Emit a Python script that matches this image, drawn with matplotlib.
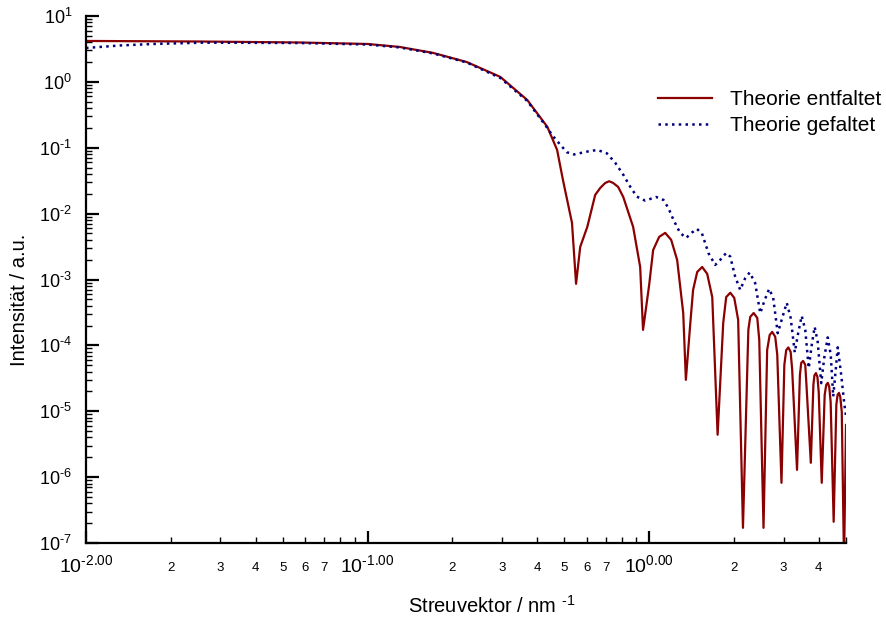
import matplotlib
matplotlib.use("Agg")
import matplotlib.pyplot as plt
from matplotlib.ticker import LogLocator, FuncFormatter, NullFormatter
import numpy as np

plt.rcParams['font.family'] = ['Liberation Sans', 'DejaVu Sans']
plt.rcParams['mathtext.fontset'] = 'custom'
plt.rcParams['mathtext.rm'] = 'Liberation Sans'
plt.rcParams['mathtext.it'] = 'Liberation Sans:italic'
plt.rcParams['mathtext.default'] = 'regular'

# Red: "Theorie entfaltet"
red_q = [0.01, 0.0254, 0.0575, 0.1, 0.130, 0.171, 0.225, 0.296, 0.369, 0.435, 0.471, 0.494,
         0.532, 0.550, 0.569, 0.603, 0.643, 0.670, 0.698, 0.721, 0.745, 0.776, 0.809, 0.877,
         0.929, 0.951, 1.0, 1.033, 1.085, 1.140, 1.197, 1.257, 1.321, 1.350, 1.40, 1.432,
         1.481, 1.542, 1.607, 1.675, 1.750, 1.832, 1.877, 1.941, 2.005, 2.07, 2.153, 2.25,
         2.285, 2.35, 2.42, 2.46, 2.547, 2.624, 2.679, 2.735, 2.803, 2.85, 2.95, 3.02, 3.067,
         3.12, 3.18, 3.22, 3.35, 3.43, 3.467, 3.52, 3.583, 3.61, 3.75, 3.83, 3.862, 3.91,
         3.958, 4.0, 4.10, 4.2, 4.254, 4.31, 4.359, 4.41, 4.52, 4.62, 4.666, 4.72, 4.77, 4.83,
         4.92, 5.0]
red_I = [4.18, 4.1, 3.96, 3.76, 3.39, 2.75, 2.0, 1.19, 0.531, 0.207, 0.0927, 0.0325,
         0.00723, 8.6e-4, 3.13e-3, 6.3e-3, 0.0192, 0.0245, 0.0292, 0.0310, 0.0292, 0.0254,
         0.0179, 6.3e-3, 1.55e-3, 1.72e-4, 8.3e-4, 2.8e-3, 4.43e-3, 5.1e-3, 4.0e-3, 1.98e-3,
         3.1e-4, 3.0e-5, 2.19e-4, 6.95e-4, 1.30e-3, 1.55e-3, 1.22e-3, 5.4e-4, 4.4e-6, 2.19e-4,
         5.4e-4, 6.3e-4, 5.26e-4, 2.44e-4, 1.7e-7, 1.72e-4, 2.71e-4, 3.1e-4, 2.61e-4, 1.21e-4,
         1.7e-7, 8.5e-5, 1.44e-4, 1.6e-4, 1.35e-4, 7.2e-5, 8.2e-7, 5.06e-5, 8.5e-5, 9.3e-5,
         7.96e-5, 4.25e-5, 1.29e-6, 3.56e-5, 5.42e-5, 5.8e-5, 5.06e-5, 3.0e-5, 1.65e-6,
         2.51e-5, 3.5e-5, 3.8e-5, 3.33e-5, 1.97e-5, 8.2e-7, 1.77e-5, 2.52e-5, 2.7e-5, 2.34e-5,
         1.39e-5, 2.1e-7, 1.25e-5, 1.77e-5, 1.9e-5, 1.66e-5, 9.8e-6, 5e-8, 6.2e-6]

# Blue dotted: "Theorie gefaltet"
blue_q = [0.01, 0.0132, 0.0173, 0.026, 0.0575, 0.1, 0.130, 0.171, 0.225, 0.296, 0.369, 0.427,
          0.457, 0.490, 0.510, 0.5415, 0.601, 0.654, 0.707, 0.757, 0.810, 0.856, 0.904, 0.968,
          1.059, 1.124, 1.171, 1.22, 1.288, 1.353, 1.418, 1.477, 1.539, 1.624, 1.716, 1.787,
          1.877, 1.94, 2.02, 2.105, 2.193, 2.275, 2.379, 2.48, 2.572, 2.668, 2.757, 2.861,
          2.969, 3.08, 3.18, 3.288, 3.383, 3.48, 3.583, 3.687, 3.779, 3.87, 3.967, 4.083,
          4.185, 4.306, 4.413, 4.504, 4.597, 4.673, 4.808, 4.928, 5.0]
blue_I = [3.27, 3.57, 3.76, 3.94, 3.89, 3.69, 3.33, 2.70, 1.97, 1.146, 0.513, 0.222, 0.147,
          0.104, 0.0855, 0.0791, 0.0873, 0.0926, 0.0825, 0.0594, 0.0387, 0.0257, 0.0181,
          0.01575, 0.0179, 0.01614, 0.01208, 8.02e-3, 5.09e-3, 4.28e-3, 5.15e-3, 5.86e-3,
          5.04e-3, 2.51e-3, 1.665e-3, 1.98e-3, 2.53e-3, 2.23e-3, 1.107e-3, 6.96e-4, 1.047e-3,
          1.28e-3, 8.8e-4, 3.08e-4, 4.9e-4, 7.2e-4, 5.26e-4, 1.53e-4, 2.62e-4, 4.42e-4,
          2.62e-4, 7.83e-5, 1.55e-4, 2.8e-4, 1.72e-4, 4.51e-5, 1.02e-4, 1.91e-4, 1.13e-4,
          2.67e-5, 6.46e-5, 1.32e-4, 7.18e-5, 1.67e-5, 4.25e-5, 9.33e-5, 3.57e-5, 1.33e-5,
          8.5e-6]

labels = ["Theorie entfaltet", "Theorie gefaltet"]
x_label = r"Streuvektor / nm $^{\text{-}1}$"
y_label = "Intensität / a.u."

fig = plt.figure(figsize=(8.87, 6.21), dpi=100)
ax = fig.add_axes([86/887, 1-543/621, (846-86)/887, (543-16)/621])

ax.plot(red_q, red_I, color='#8b0000', lw=1.6, label=labels[0])
ax.plot(blue_q, blue_I, color='#000080', lw=1.8, ls=(0, (1, 1.7)), label=labels[1])

ax.set_xscale('log')
ax.set_yscale('log')
ax.set_xlim(0.01, 5.0)
ax.set_ylim(1e-7, 10)

for s in ['top', 'right']:
    ax.spines[s].set_visible(False)
for s in ['left', 'bottom']:
    ax.spines[s].set_linewidth(1.6)


def hy(s):
    return s.replace('-', r'\text{-}')


ax.xaxis.set_major_locator(LogLocator(base=10, numticks=10))
ax.xaxis.set_minor_locator(LogLocator(base=10, subs=np.arange(2, 10), numticks=20))
ax.xaxis.set_major_formatter(FuncFormatter(lambda v, p: r"$10^{%s}$" % hy("%.2f" % np.log10(v))))


def minor_fmt(v, p):
    if v > 4.9:
        return ""
    m = v / 10 ** np.floor(np.log10(v) + 1e-9)
    k = int(round(m))
    return str(k) if 2 <= k <= 7 else ""


ax.xaxis.set_minor_formatter(FuncFormatter(minor_fmt))

ax.yaxis.set_major_locator(LogLocator(base=10, numticks=12))
ax.yaxis.set_minor_locator(LogLocator(base=10, subs=np.arange(2, 10), numticks=20))
ax.yaxis.set_minor_formatter(NullFormatter())
ax.yaxis.set_major_formatter(FuncFormatter(lambda v, p: r"$10^{%s}$" % hy("%d" % round(np.log10(v)))))

ax.tick_params(axis='both', which='major', direction='in', length=9, width=1.6, labelsize=13)
ax.tick_params(axis='both', which='minor', direction='in', length=4, width=1.0)
ax.tick_params(axis='x', which='major', pad=8, labelsize=14)
ax.tick_params(axis='x', which='minor', pad=14, labelsize=9.5)
ax.tick_params(axis='y', which='major', pad=10)

fig.text(492/887, 1-606/621, x_label, ha='center', va='center', fontsize=14.5)
fig.text(20/887, 1-300/621, y_label, ha='center', va='center', rotation=90, fontsize=14.5)

ax.legend(loc='upper left', bbox_to_anchor=(658/887, 1-90/621), bbox_transform=fig.transFigure,
          frameon=False, fontsize=15, handlelength=2.6, handletextpad=0.85, labelspacing=0.35,
          borderpad=0, borderaxespad=0)

fig.savefig('out.png', dpi=100)
